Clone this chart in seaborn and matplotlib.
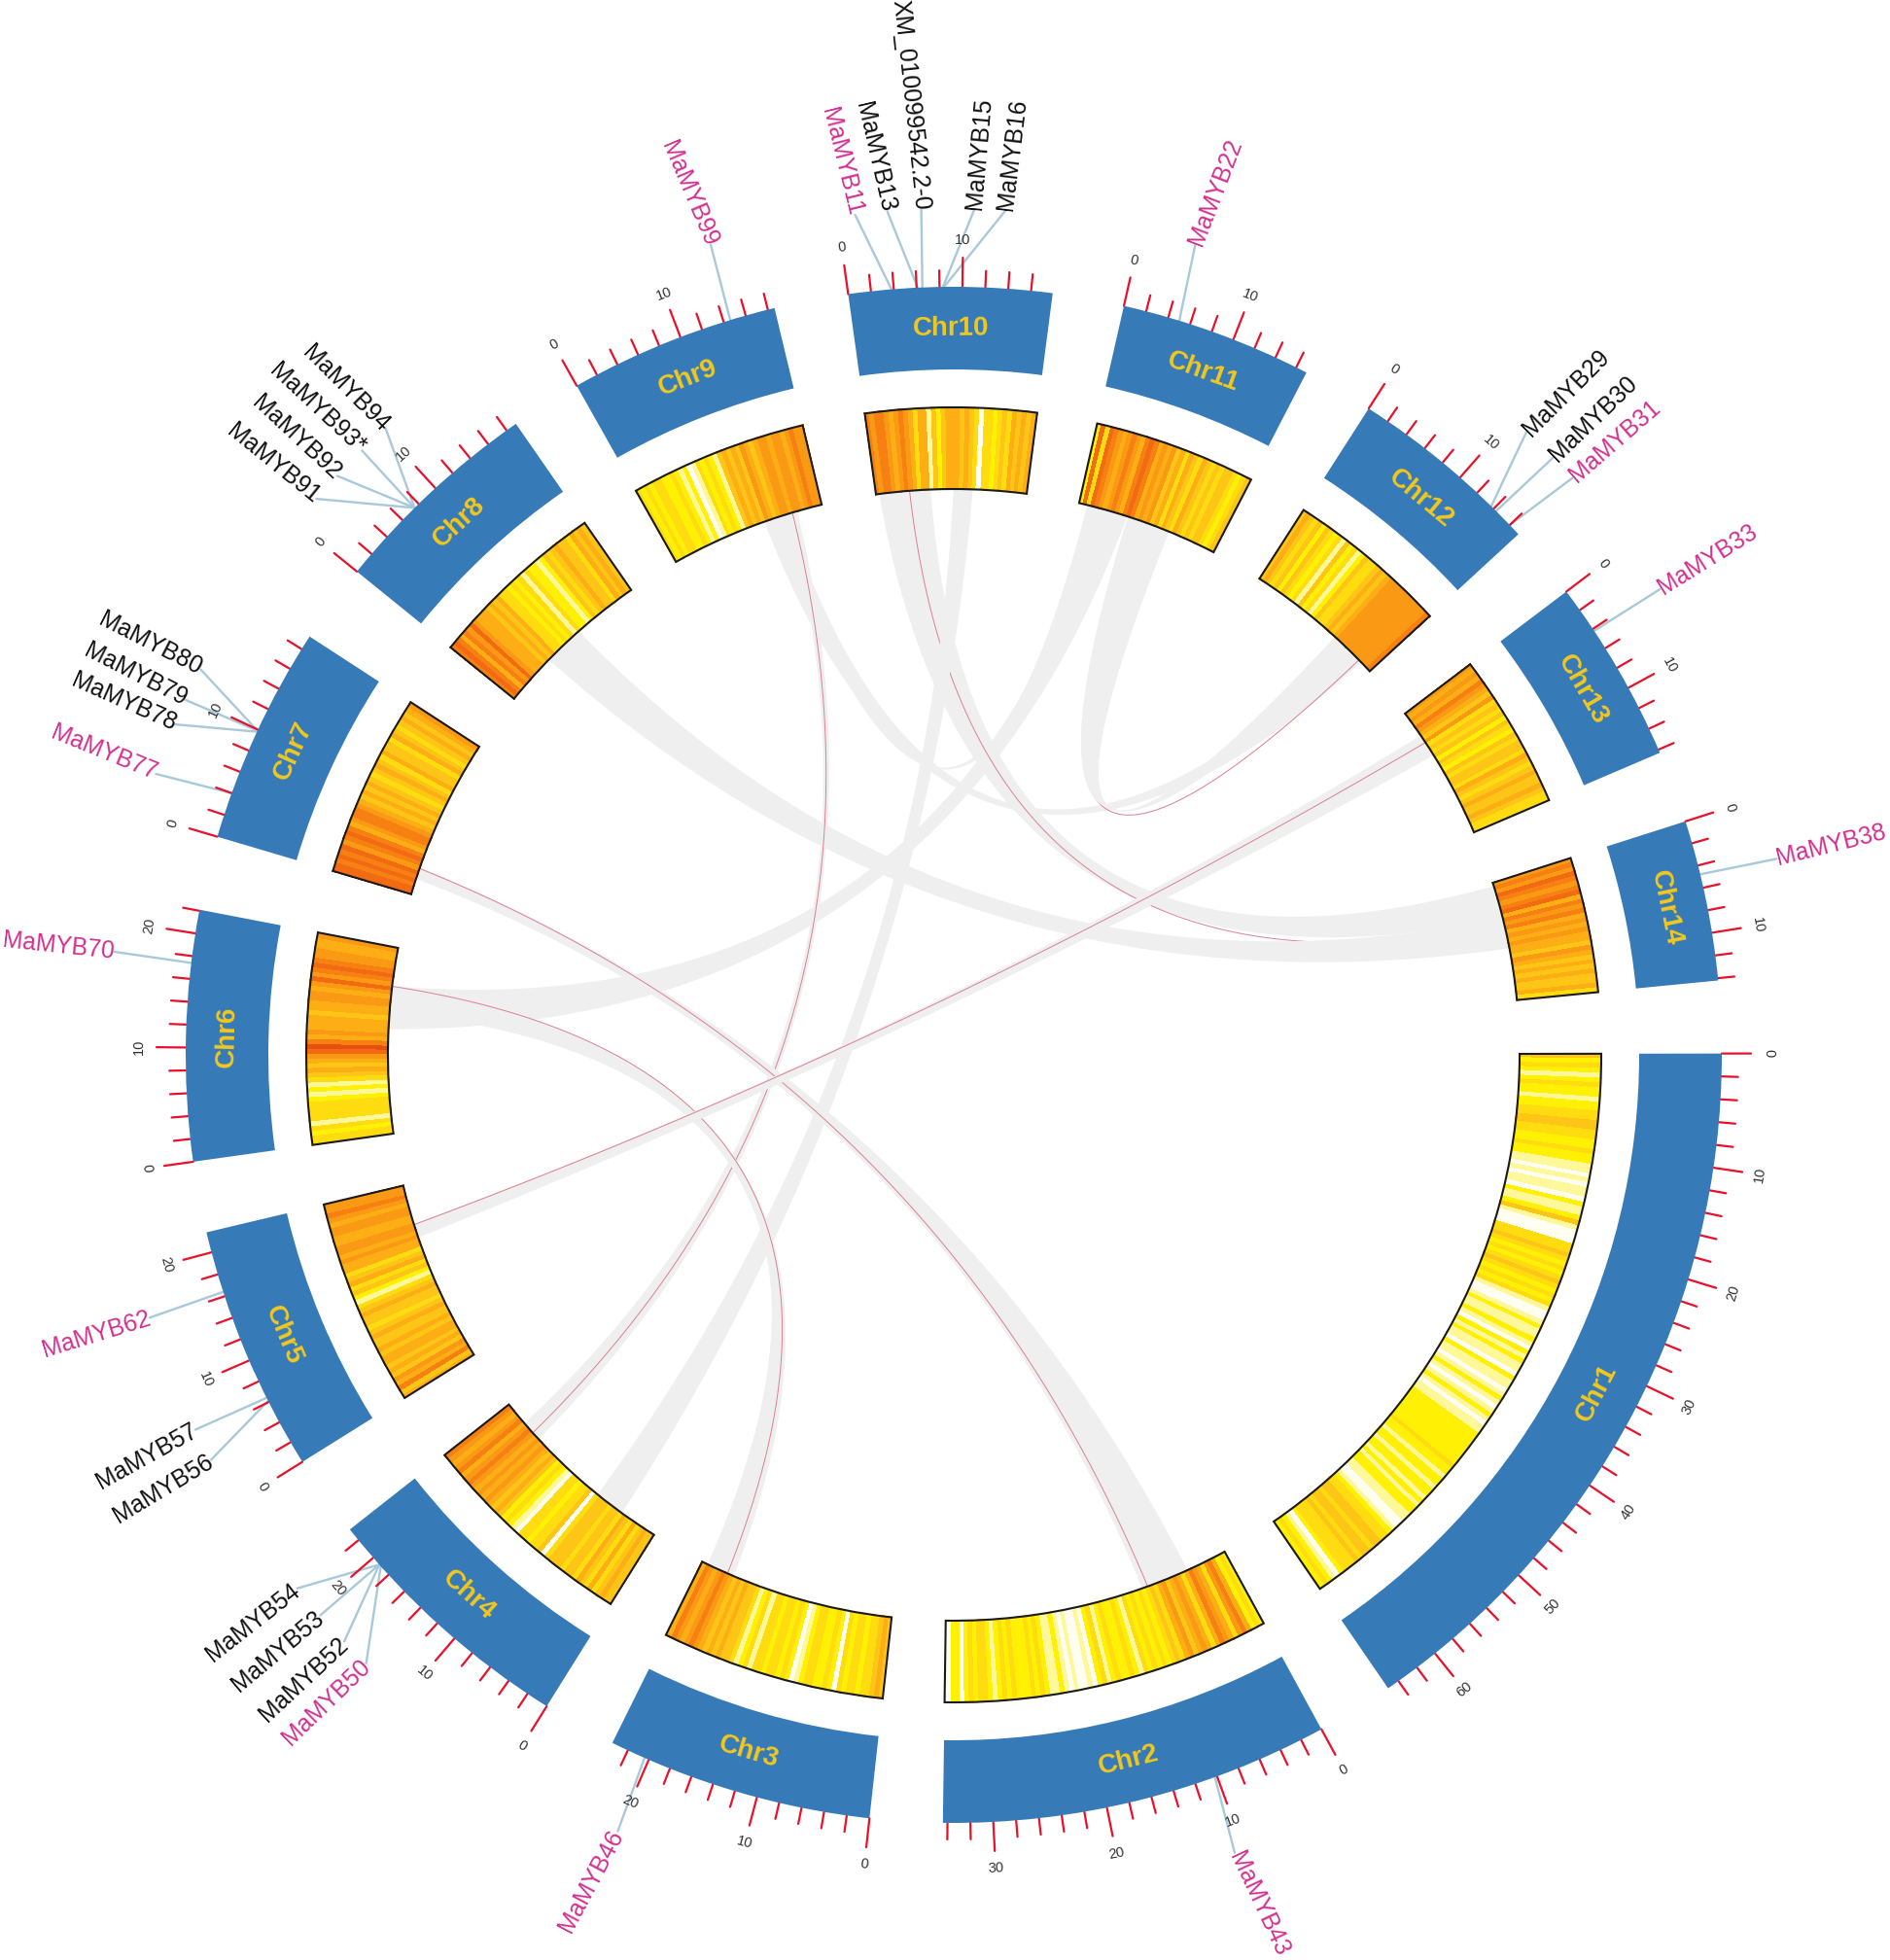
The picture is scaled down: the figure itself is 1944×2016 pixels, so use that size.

import numpy as np
import pandas as pd
import matplotlib
matplotlib.use("Agg")
import matplotlib.pyplot as plt
import seaborn as sns

# chromosome sizes in Mb
chr_names = ["Chr1", "Chr2", "Chr3", "Chr4", "Chr5", "Chr6", "Chr7",
             "Chr8", "Chr9", "Chr10", "Chr11", "Chr12", "Chr13", "Chr14"]
chr_lengths = [65.1, 34.4, 23.5, 23.2, 21.8, 22.1, 19.3, 19.0, 18.6, 17.9, 17.0, 17.1, 16.3, 14.2]

# gene density read along each chromosome, 0 (pale) to 9 (dark orange)
density = {
    "Chr1": [4,2,3,2,1,2,3,2,2,1,2,2, 3,3,4,4,3,3,2,2, 3,2,2,1, 1,0,1,0,1,1,0,2,1,1, 2,4,1,0,0,0,
             3,3,4,3,2,3,2,3,4,3,2,3,2,3, 1,0,0,1, 2,1,1,2,1,0,2,1,2,1,1,0,2,1,1,0,1,2,1,0,1,2,1,0,1,1,
             2,2,2,2,2,2,2,2,3,2,2,1,2,2,1,2, 2,1,2,1,2,2,1,1, 0,0,1,2, 3,3,4,4,3,4,4,3,4,3,3,3, 2,0,1,2,3,2],
    "Chr2": [2,3,2,5,7,6,3,5,6,7,5,3,5,6,5,4,6,5,3,4,3,2,3,2,3,2,3,1,2,3,2,2,3,2,1,3,2,0,1,0,0,1,0,1,2,1,1,2,3,2,3,2,2,2,3,2,3,2,1,2,3,3,2,3,2,0,2,2,0],
    "Chr3": [4,5,4,3,3,2,3,3,2,3,0,2,3,2,2,3,3,2,1,0,2,3,2,3,3,2,3,3,1,3,2,1,3,4,4,5,4,5,4,5,6,7,6,5,6,7,5],
    "Chr4": [4,4,5,4,3,5,3,4,5,3,4,4,3,4,4,4,3,0,4,3,3,2,3,3,0,1,2,3,2,4,5,4,5,6,5,6,5,6,7,6,5,7,6,5,6,7],
    "Chr5": [5,4,7,5,6,4,5,4,5,5,4,5,4,4,5,4,3,4,4,5,4,3,1,2,4,3,5,4,3,5,5,6,5,6,6,5,5,6,6,5,6,7,6,6],
    "Chr6": [3,3,2,3,1,3,3,3,3,2,1,2,1,3,4,5,4,5,6,8,9,7,5,6,5,5,5,4,5,5,6,6,5,6,8,6,7,8,7,6,6,5,5,6],
    "Chr7": [8,8,7,8,7,8,6,7,8,7,5,6,7,7,6,5,4,5,4,5,4,3,4,5,4,3,5,4,4,3,5,4,3,4,5,4,5,6],
    "Chr8": [7,8,7,5,7,6,8,6,5,5,5,4,5,4,5,3,3,2,3,2,3,1,3,2,2,1,2,4,3,4,5,4,4,3,5,4,5,4],
    "Chr9": [3,2,3,2,3,3,2,2,3,2,1,2,0,1,3,2,3,2,1,4,5,4,5,4,6,5,4,5,6,6,5,6,6,5,6,7,6,6],
    "Chr10": [7,6,7,7,6,5,6,7,6,5,3,5,5,1,4,2,4,5,5,5,4,5,4,3,0,3,3,2,3,4,3,5,4,5,4,5],
    "Chr11": [2,8,3,8,7,6,5,6,7,6,5,7,8,7,5,6,5,6,4,5,3,5,4,3,5,4,3,4,3,4,4,3,2,3,4],
    "Chr12": [4,5,4,3,4,2,4,3,2,3,1,4,2,3,1,2,4,3,3,4,5,4,5,6,6,6,6,6,6,6,6,6,6,7],
    "Chr13": [6,5,6,5,7,6,5,4,6,3,4,3,4,2,4,3,2,4,3,4,4,3,5,4,3,4,5,4,4,5,4,3,3],
    "Chr14": [6,7,6,8,7,6,7,8,5,7,6,7,5,6,5,6,5,5,4,6,5,4,5,4,5,4,4,5,3],
}

# genes: name, chromosome, position in Mb, highlighted
gene_names = ["MaMYB43", "MaMYB46", "MaMYB54", "MaMYB53", "MaMYB52", "MaMYB50", "MaMYB62", "MaMYB57", "MaMYB56",
              "MaMYB70", "MaMYB80", "MaMYB79", "MaMYB78", "MaMYB77", "MaMYB94", "MaMYB93*", "MaMYB92", "MaMYB91",
              "MaMYB99", "MaMYB11", "MaMYB13", "XM_010099542.2-0", "MaMYB15", "MaMYB16", "MaMYB22",
              "MaMYB29", "MaMYB30", "MaMYB31", "MaMYB33", "MaMYB38"]
gene_chr = ["Chr2", "Chr3", "Chr4", "Chr4", "Chr4", "Chr4", "Chr5", "Chr5", "Chr5",
            "Chr6", "Chr7", "Chr7", "Chr7", "Chr7", "Chr8", "Chr8", "Chr8", "Chr8",
            "Chr9", "Chr10", "Chr10", "Chr10", "Chr10", "Chr10", "Chr11",
            "Chr12", "Chr12", "Chr12", "Chr13", "Chr14"]
gene_pos = [10.2, 20.4, 19.2, 19.2, 19.2, 19.0, 16.4, 6.4, 6.1,
            17.4, 9.9, 9.9, 9.8, 4.0, 7.5, 7.5, 7.5, 7.5,
            14.6, 3.8, 6.1, 6.5, 8.3, 8.4, 5.0,
            13.7, 14.3, 16.0, 4.2, 4.8]
gene_pink = [1, 1, 0, 0, 0, 1, 1, 0, 0,
             1, 0, 0, 0, 1, 0, 0, 0, 0,
             1, 1, 0, 0, 0, 0, 1,
             0, 0, 1, 1, 1]

# syntenic links: chr a range, chr b range, red gene pair (nan = none)
link_a_chr = ["Chr9", "Chr12", "Chr11", "Chr9", "Chr6", "Chr10", "Chr10", "Chr8", "Chr9", "Chr7", "Chr6", "Chr13"]
link_a_from = [11.5, 15.2, 6.0, 13.0, 12.4, 0.4, 9.2, 6.2, 14.5, 1.9, 14.5, 3.2]
link_a_to = [14.3, 15.3, 11.2, 14.5, 17.5, 6.5, 11.5, 11.1, 15.6, 3.3, 17.5, 6.0]
link_b_chr = ["Chr12", "Chr11", "Chr12", "Chr11", "Chr11", "Chr14", "Chr4", "Chr14", "Chr4", "Chr2", "Chr3", "Chr5"]
link_b_from = [13.5, 6.1, 11.3, 1.0, 2.9, 0.4, 4.6, 4.3, 17.8, 4.9, 19.4, 15.4]
link_b_to = [15.6, 6.2, 13.5, 2.9, 5.9, 4.3, 8.2, 8.0, 20.3, 10.7, 22.8, 17.1]
link_red_a = [np.nan, 15.25, np.nan, np.nan, np.nan, 4.0, np.nan, np.nan, 15.0, 3.2, 17.5, 4.2]
link_red_b = [np.nan, 6.15, np.nan, np.nan, np.nan, 5.2, np.nan, np.nan, 18.8, 10.0, 20.2, 17.0]

# layout, in px of the 1944x2016 canvas
CX, CY = 981, 1085
W, H = 1944, 2016
chr_start = [-0.1, 61.4, 96.3, 122.0, 148.0, 172.0, 196.5, 219.0, 240.6, 262.1, 282.8, 302.7, 322.9, 342.3]
DEG_PER_MB = 0.855
RING_IN, RING_OUT = 705, 790
HEAT_IN, HEAT_OUT = 582, 666
GENE_R = 870
BEZIER_R = 30
gene_label_deg = [70.6, 113.4, 140.9, 138.5, 136.1, 134.0, 161.9, 153.7, 151.4,
                  187.0, 207.1, 204.8, 203.0, 199.4, 227.8, 225.6, 223.2, 221.1,
                  253.3, 263.3, 265.5, 267.8, 271.4, 273.5, 286.6,
                  312.6, 315.1, 317.0, 326.6, 346.6]
gene_label_rot = [-65, 62, 38, 40, 43, 44, 17, 29, 31,
                  -6, -27, -27, -24, -22, -45, -43, -43, -39,
                  -67, -76, -77, -84, 85, 83, 69,
                  45, 44, 41, 32, 14]

BLUE = "#377ab8"
YELLOW = "#f2c81e"
PINK = "#d2308f"
LEADER = "#a8c9da"
RED = "#e8102a"
GREY = "#efefef"
LINK_RED = "#dc8090"

sns.set_theme(style="white")
plt.rcParams["font.family"] = ["Liberation Sans", "DejaVu Sans"]

heat_cmap = sns.blend_palette(["#fffef0", "#fff89a", "#fff000", "#ffdc10", "#fdc515",
                               "#fcae14", "#fa9a14", "#f68212", "#f26a12", "#e84e10"], as_cmap=True)


def to_theta(name, mb):
    i = chr_names.index(name)
    return np.deg2rad(chr_start[i] + np.asarray(mb) * DEG_PER_MB)


def tangent_rot(deg):
    rot = -(deg + 90)
    while rot <= -90:
        rot += 180
    while rot > 90:
        rot -= 180
    return rot


# quadratic bezier between two ring points, control point close to the centre
def bezier(t0, t1, r=HEAT_IN, n=80):
    s = np.linspace(0, 1, n)
    mx, my = np.cos(t0) + np.cos(t1), np.sin(t0) + np.sin(t1)
    norm = np.hypot(mx, my)
    cx, cy = BEZIER_R * mx / norm, BEZIER_R * my / norm
    x = (1 - s) ** 2 * r * np.cos(t0) + 2 * s * (1 - s) * cx + s ** 2 * r * np.cos(t1)
    y = (1 - s) ** 2 * r * np.sin(t0) + 2 * s * (1 - s) * cy + s ** 2 * r * np.sin(t1)
    return np.arctan2(y, x), np.hypot(x, y)


fig = plt.figure(figsize=(W / 100, H / 100), dpi=100)
R = CX
ax = fig.add_axes([0, (H - CY - R) / H, 2 * R / W, 2 * R / H], projection="polar")
ax.set_theta_zero_location("E")
ax.set_theta_direction(-1)

# links first, they sit under the heat ring
for i in range(len(link_a_chr)):
    a0, a1 = to_theta(link_a_chr[i], [link_a_from[i], link_a_to[i]])
    b0, b1 = to_theta(link_b_chr[i], [link_b_from[i], link_b_to[i]])
    t1, r1 = bezier(a0, b1)
    t2, r2 = bezier(b0, a1)
    ax.fill(np.r_[t1, t2], np.r_[r1, r2], color=GREY, lw=0, zorder=1 + i * 0.01)
    if not np.isnan(link_red_a[i]):
        t, r = bezier(to_theta(link_a_chr[i], link_red_a[i]), to_theta(link_b_chr[i], link_red_b[i]))
        ax.plot(t, r, color=LINK_RED, lw=0.7, zorder=1 + i * 0.01 + 0.001)

# gene leaders
rows = []
for i, name in enumerate(gene_names):
    rows.append((name, float(to_theta(gene_chr[i], gene_pos[i])), RING_OUT))
    rows.append((name, np.deg2rad(gene_label_deg[i]), GENE_R))
leaders = pd.DataFrame(rows, columns=["gene", "theta", "r"])
sns.lineplot(data=leaders, x="theta", y="r", units="gene", estimator=None, sort=False,
             color=LEADER, lw=1.7, ax=ax, zorder=2)

# ticks every 2 Mb, longer every 10 Mb
rows = []
for name, length in zip(chr_names, chr_lengths):
    for mb in np.arange(0, length, 2):
        t = float(to_theta(name, mb))
        tick_len = 30 if mb % 10 == 0 else 17
        rows.append((f"{name}_{mb}", t, RING_OUT))
        rows.append((f"{name}_{mb}", t, RING_OUT + tick_len))
        if mb % 10 == 0:
            deg = np.rad2deg(t)
            ax.text(t, RING_OUT + 48, str(int(mb)), rotation=tangent_rot(deg), rotation_mode="anchor",
                    ha="center", va="center", fontsize=10.5, color="#333333")
ticks = pd.DataFrame(rows, columns=["tick", "theta", "r"])
sns.lineplot(data=ticks, x="theta", y="r", units="tick", estimator=None, sort=False,
             color=RED, lw=1.6, ax=ax, zorder=3)

# outer ring and heat ring
for name, length in zip(chr_names, chr_lengths):
    t0, t1 = to_theta(name, [0, length])
    ax.bar((t0 + t1) / 2, RING_OUT - RING_IN, width=t1 - t0, bottom=RING_IN, color=BLUE, lw=0, zorder=4)
    deg = np.rad2deg((t0 + t1) / 2)
    ax.text((t0 + t1) / 2, (RING_IN + RING_OUT) / 2, name, rotation=tangent_rot(deg), rotation_mode="anchor",
            ha="center", va="center", fontsize=20, fontweight="bold", color=YELLOW, zorder=5)

    vals = np.array(density[name], dtype=float)
    edges = np.linspace(t0, t1, len(vals) + 1)
    ax.pcolormesh(edges, [HEAT_IN, HEAT_OUT], vals[None, :], cmap=heat_cmap, vmin=0, vmax=9,
                  shading="flat", edgecolors="face", lw=0.2, zorder=4)
    ax.bar((t0 + t1) / 2, HEAT_OUT - HEAT_IN, width=t1 - t0, bottom=HEAT_IN, fill=False,
           edgecolor="#1a1a1a", lw=1.5, zorder=5)

# gene labels
for i, name in enumerate(gene_names):
    deg = gene_label_deg[i] % 360
    left_side = 90 < deg < 270
    ax.text(np.deg2rad(deg), GENE_R, name, rotation=gene_label_rot[i], rotation_mode="anchor",
            ha="right" if left_side else "left", va="center", fontsize=17.8,
            color=PINK if gene_pink[i] else "#111111", zorder=6)

ax.set_rlim(0, R)
ax.set_rorigin(0)
ax.set_xlabel("")
ax.set_ylabel("")
ax.axis("off")

fig.savefig("out.png", dpi=100, facecolor="white")
